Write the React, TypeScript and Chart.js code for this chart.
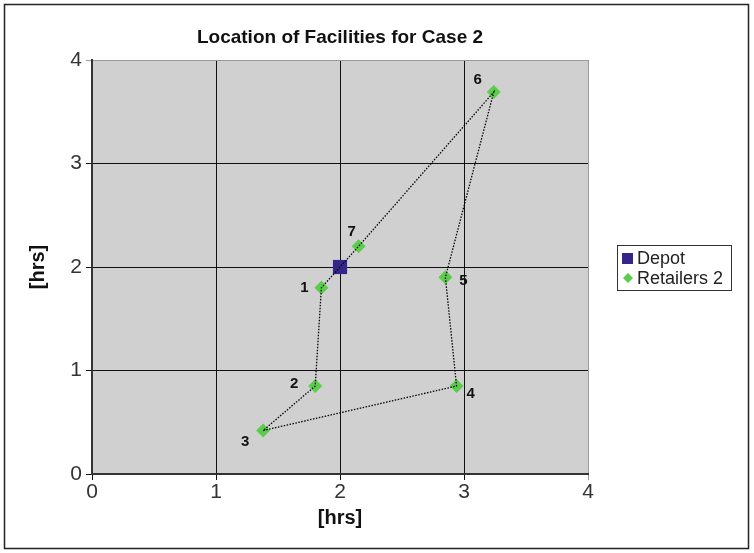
import React, { useEffect, useRef } from "react";
import { Chart, registerables } from "chart.js";

Chart.register(...registerables);

const chartTitle = "Location of Facilities for Case 2";
const axisTitle = "[hrs]";
const depotX = [2];
const depotY = [2];
const retailerLabels = ["1", "2", "3", "4", "5", "6", "7"];
const retailerX = [1.85, 1.8, 1.38, 2.94, 2.85, 3.24, 2.15];
const retailerY = [1.8, 0.85, 0.42, 0.85, 1.9, 3.69, 2.2];
// label anchor direction per retailer (style, not data)
const labelAnchors = ["l", "l2", "bl", "br", "r", "tl", "t"];
const legendNames = ["Depot", "Retailers 2"];

const FONT = "'Liberation Sans', Arial, Helvetica, sans-serif";
const DEPOT_COLOR = "#33258a";
const RETAIL_COLOR = "#5ccc4c";

export default function App() {
  const ref = useRef<HTMLCanvasElement | null>(null);
  useEffect(() => {
    const canvas = ref.current!;
    const routePts = [
      { x: depotX[0], y: depotY[0] },
      ...retailerX.map((x, i) => ({ x, y: retailerY[i] })),
      { x: depotX[0], y: depotY[0] },
    ];
    const deco = {
      id: "deco",
      beforeDraw(chart: any) {
        const { ctx, chartArea: a } = chart;
        ctx.save();
        ctx.fillStyle = "#ffffff";
        ctx.fillRect(0, 0, chart.width, chart.height);
        ctx.fillStyle = "#d0d0d0";
        ctx.fillRect(a.left, a.top, a.right - a.left, a.bottom - a.top);
        ctx.restore();
      },
      afterDraw(chart: any) {
        const { ctx, chartArea: a } = chart;
        ctx.save();
        // outer frame
        ctx.strokeStyle = "#222";
        ctx.lineWidth = 1.5;
        ctx.strokeRect(4.5, 4.5, 744, 544);
        // title
        ctx.fillStyle = "#111";
        ctx.font = `bold 19px ${FONT}`;
        ctx.textAlign = "center";
        ctx.textBaseline = "middle";
        ctx.fillText(chartTitle, (a.left + a.right) / 2, 38);
        // axis titles
        ctx.font = `bold 20px ${FONT}`;
        ctx.fillText(axisTitle, (a.left + a.right) / 2, 518);
        ctx.save();
        ctx.translate(38, (a.top + a.bottom) / 2);
        ctx.rotate(-Math.PI / 2);
        ctx.fillText(axisTitle, 0, 0);
        ctx.restore();
        // point labels
        const meta = chart.getDatasetMeta(2);
        ctx.font = `bold 15px ${FONT}`;
        ctx.fillStyle = "#111";
        meta.data.forEach((el: any, i: number) => {
          const an = labelAnchors[i];
          let dx = 0, dy = 0;
          if (an === "l") { dx = -17; dy = 0; }
          if (an === "l2") { dx = -21; dy = -2; }
          if (an === "r") { dx = 18; dy = 4; }
          if (an === "bl") { dx = -18; dy = 11; }
          if (an === "br") { dx = 14; dy = 8; }
          if (an === "tl") { dx = -16; dy = -12; }
          if (an === "t") { dx = -7; dy = -14; }
          ctx.fillText(retailerLabels[i], el.x + dx, el.y + dy);
        });
        // legend
        const lx = 617, ly = 245, lw = 114, lh = 45;
        ctx.fillStyle = "#fff";
        ctx.fillRect(lx, ly, lw, lh);
        ctx.strokeStyle = "#333";
        ctx.lineWidth = 1;
        ctx.strokeRect(lx + 0.5, ly + 0.5, lw, lh);
        ctx.fillStyle = DEPOT_COLOR;
        ctx.fillRect(622, 253, 11, 11);
        ctx.fillStyle = RETAIL_COLOR;
        ctx.beginPath();
        ctx.moveTo(628, 273); ctx.lineTo(633, 278); ctx.lineTo(628, 283); ctx.lineTo(623, 278);
        ctx.closePath(); ctx.fill();
        ctx.fillStyle = "#222";
        ctx.font = `18px ${FONT}`;
        ctx.textAlign = "left";
        ctx.fillText(legendNames[0], 637, 259);
        ctx.fillText(legendNames[1], 637, 279);
        ctx.restore();
      },
    };
    const gridColor = (c: any) => (c.tick && c.tick.value === 4 ? "#9a9a9a" : "#111");
    const chart = new Chart(canvas, {
      type: "scatter",
      data: {
        datasets: [
          {
            label: "route",
            data: routePts,
            showLine: true,
            borderColor: "#000",
            borderWidth: 1.3,
            borderDash: [1.5, 1.5],
            pointRadius: 0,
            fill: false,
          } as any,
          {
            label: legendNames[0],
            data: depotX.map((x, i) => ({ x, y: depotY[i] })),
            pointStyle: "rect",
            pointRadius: 10,
            backgroundColor: DEPOT_COLOR,
            borderColor: DEPOT_COLOR,
            borderWidth: 0,
          },
          {
            label: legendNames[1],
            data: retailerX.map((x, i) => ({ x, y: retailerY[i] })),
            pointStyle: "rectRot",
            pointRadius: 7,
            backgroundColor: RETAIL_COLOR,
            borderColor: RETAIL_COLOR,
            borderWidth: 0,
          },
        ],
      },
      options: {
        animation: false,
        responsive: false,
        maintainAspectRatio: false,
        layout: { padding: { left: 0, right: 166, top: 60, bottom: 0 } },
        plugins: { legend: { display: false }, tooltip: { enabled: false }, title: { display: false } },
        scales: {
          x: {
            type: "linear",
            min: 0,
            max: 4,
            afterFit: (s: any) => { s.height = 79; },
            ticks: { stepSize: 1, color: "#333", font: { family: FONT, size: 21 }, padding: 0 },
            grid: { color: gridColor, lineWidth: 1, tickLength: 6, drawTicks: true },
            border: { color: "#333", width: 2 },
          },
          y: {
            type: "linear",
            min: 0,
            max: 4,
            afterFit: (s: any) => { s.width = 92; },
            ticks: { stepSize: 1, color: "#333", font: { family: FONT, size: 21 }, padding: 4 },
            grid: { color: gridColor, lineWidth: 1, tickLength: 6, drawTicks: true },
            border: { color: "#333", width: 2 },
          },
        },
      },
      plugins: [deco],
    });
    return () => chart.destroy();
  }, []);
  return (
    <div style={{ position: "fixed", left: 0, top: 0, width: 754, height: 553 }}>
      <canvas ref={ref} width={754} height={553} style={{ width: 754, height: 553, display: "block" }} />
    </div>
  );
}
